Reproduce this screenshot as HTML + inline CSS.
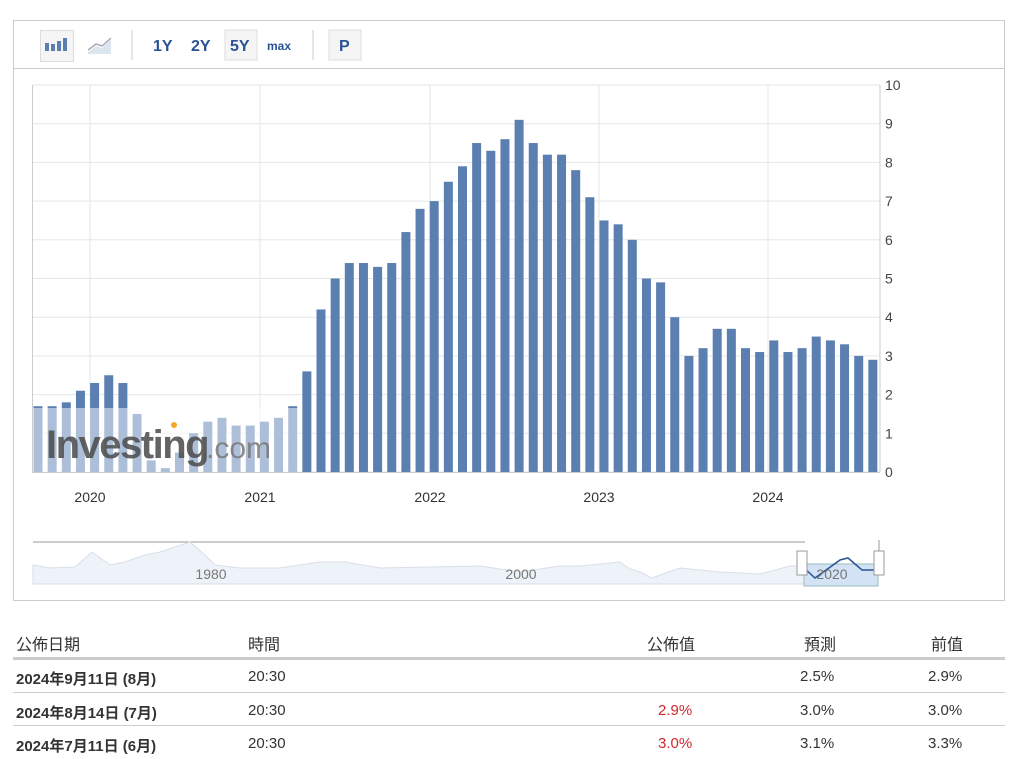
<!DOCTYPE html>
<html><head><meta charset="utf-8"><style>
body{margin:0;width:1024px;height:759px;background:#fff;font-family:"Liberation Sans","Noto Sans CJK JP",sans-serif;overflow:hidden;position:relative}
.t{position:absolute;font-size:15px;color:#333}
.b{font-weight:bold}
.line{position:absolute;left:13px;width:992px;height:2px;background:#ccc}
</style></head><body>
<div style="position:absolute;left:13px;top:20px;width:990px;height:579px;border:1px solid #ccc"></div>
<div style="position:absolute;left:14px;top:68px;width:990px;height:1px;background:#ccc"></div>
<div style="position:absolute;left:40px;top:30px;width:32px;height:30px;border:1px solid #ddd;background:#f5f5f5"></div>
<svg style="position:absolute;left:0;top:0" width="1024" height="620">
<rect x="45" y="43" width="4" height="8" fill="#5b7fb0"/><rect x="51" y="44" width="4" height="7" fill="#5b7fb0"/><rect x="57" y="41" width="4" height="10" fill="#5b7fb0"/><rect x="63" y="38" width="4" height="13" fill="#5b7fb0"/>
<path d="M88 52 L96 46 L102 48 L111 39 L111 54 L88 54Z" fill="#dde5ef"/><path d="M88 50 L96 44 L102 46 L111 38" stroke="#aab" fill="none" stroke-width="1.5"/>
<line x1="132" y1="30" x2="132" y2="60" stroke="#ccc"/><line x1="313" y1="30" x2="313" y2="60" stroke="#ccc"/>
<rect x="225" y="30" width="32" height="30" fill="#f5f5f5" stroke="#ddd"/>
<rect x="329" y="30" width="32" height="30" fill="#f5f5f5" stroke="#ddd"/>
<g font-family="Liberation Sans" font-weight="bold" fill="#2a5394" font-size="16">
<text x="153" y="51">1Y</text><text x="191" y="51">2Y</text><text x="230" y="51">5Y</text><text x="267" y="50" font-size="12">max</text><text x="339" y="51">P</text></g>
<g id="grid" stroke="#e6e6e6"></g>
<line x1="32.5" y1="85" x2="32.5" y2="472" stroke="#ccc"/>
<line x1="32" y1="472.5" x2="880" y2="472.5" stroke="#ccc"/>
<g id="bars" fill="#5b7fb0"></g>
<rect x="33" y="408" width="268" height="64" fill="#fff" opacity="0.5"/>
<text x="46" y="458" font-family="Liberation Sans" font-weight="bold" font-size="40" fill="#4a4a4a" opacity="0.85" letter-spacing="-1.5">Investing</text>
<text x="206" y="458" font-family="Liberation Sans" font-size="30" fill="#777" opacity="0.85">.com</text>
<circle cx="174" cy="425" r="3" fill="#f5a623"/>
<g id="yl" font-family="Liberation Sans" font-size="14" fill="#444"></g>
<g font-family="Liberation Sans" font-size="14" fill="#333" text-anchor="middle">
<text x="90" y="502">2020</text><text x="260" y="502">2021</text><text x="430" y="502">2022</text><text x="599" y="502">2023</text><text x="768" y="502">2024</text></g>
<line x1="33" y1="542" x2="805" y2="542" stroke="#999"/>
<path d="M33 565 L50 568 L75 567 L92 552 L110 565 L125 562 L145 555 L160 552 L190 542 L205 555 L215 565 L240 568 L280 568 L320 562 L345 562 L380 568 L480 566 L520 572 L560 566 L580 566 L620 562 L630 569 L640 572 L652 578 L680 568 L720 572 L760 574 L790 566 L805 566 L805 584 L33 584Z" fill="#eef3f9" stroke="#d8dee8"/>
<rect x="804" y="564" width="74" height="22" fill="#d3e3f5" stroke="#9bb"/>
<path d="M804 568 L815 578 L840 560 L848 558 L862 570 L878 570" stroke="#2a5394" fill="none" stroke-width="1.5"/>
<rect x="797" y="551" width="10" height="24" fill="#fff" stroke="#999"/><rect x="874" y="551" width="10" height="24" fill="#fff" stroke="#999"/>
<line x1="879" y1="540" x2="879" y2="551" stroke="#999"/>
<g font-family="Liberation Sans" font-size="14" fill="#777" text-anchor="middle"><text x="211" y="579">1980</text><text x="521" y="579">2000</text><text x="832" y="579">2020</text></g>
</svg>
<div class="t" style="left:16px;top:631px;font-size:16px">公佈日期</div>
<div class="t" style="left:248px;top:631px;font-size:16px">時間</div>
<div class="t" style="left:647px;top:631px;font-size:16px">公佈值</div>
<div class="t" style="left:804px;top:631px;font-size:16px">預測</div>
<div class="t" style="left:931px;top:631px;font-size:16px">前值</div>
<div class="line" style="top:657px;height:3px"></div>
<div class="line" style="top:692px;height:1px"></div>
<div class="line" style="top:725px;height:1px"></div>
<div class="t b" style="left:16px;top:668px">2024年9月11日 (8月)</div><div class="t" style="left:248px;top:668px">20:30</div><div class="t" style="left:800px;top:668px">2.5%</div><div class="t" style="left:928px;top:668px">2.9%</div>
<div class="t b" style="left:16px;top:702px">2024年8月14日 (7月)</div><div class="t" style="left:248px;top:702px">20:30</div><div class="t" style="left:658px;top:702px;color:#d0262e">2.9%</div><div class="t" style="left:800px;top:702px">3.0%</div><div class="t" style="left:928px;top:702px">3.0%</div>
<div class="t b" style="left:16px;top:735px">2024年7月11日 (6月)</div><div class="t" style="left:248px;top:735px">20:30</div><div class="t" style="left:658px;top:735px;color:#d0262e">3.0%</div><div class="t" style="left:800px;top:735px">3.1%</div><div class="t" style="left:928px;top:735px">3.3%</div>
<script>
var v=[1.7,1.7,1.8,2.1,2.3,2.5,2.3,1.5,0.3,0.1,0.5,1.0,1.3,1.4,1.2,1.2,1.3,1.4,1.7,2.6,4.2,5.0,5.4,5.4,5.3,5.4,6.2,6.8,7.0,7.5,7.9,8.5,8.3,8.6,9.1,8.5,8.2,8.2,7.8,7.1,6.5,6.4,6.0,5.0,4.9,4.0,3.0,3.2,3.7,3.7,3.2,3.1,3.4,3.1,3.2,3.5,3.4,3.3,3.0,2.9];
var ns="http://www.w3.org/2000/svg",b=document.getElementById('bars'),g=document.getElementById('grid'),yl=document.getElementById('yl');
function el(p,t,a){var e=document.createElementNS(ns,t);for(var k in a)e.setAttribute(k,a[k]);p.appendChild(e);return e;}
for(var i=0;i<=10;i++){var y=472-i*38.7;el(g,'line',{x1:33,x2:880,y1:y,y2:y});var t=el(yl,'text',{x:885,y:y+5});t.textContent=i;}
[90,260,430,599,768].forEach(function(x){el(g,'line',{x1:x,x2:x,y1:85,y2:472});});
el(g,'line',{x1:880,x2:880,y1:85,y2:472,stroke:'#ccc'});
v.forEach(function(d,i){var x=38+i*14.15-4.5,h=d*38.7;el(b,'rect',{x:x,y:472-h,width:9,height:h});});
</script>
</body></html>
